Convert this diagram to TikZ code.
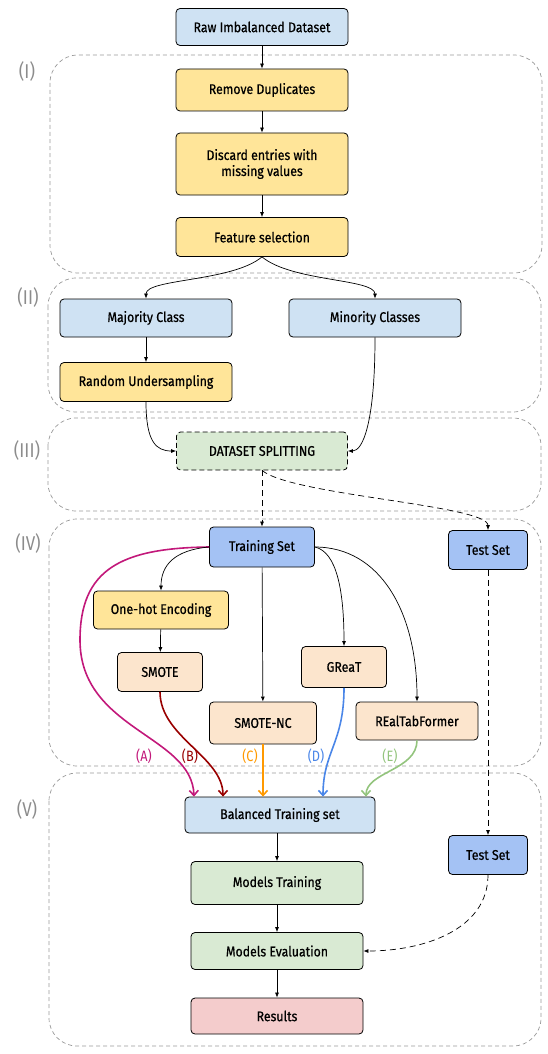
\documentclass[tikz,border=0pt]{standalone}
\usepackage{fontspec}
\setmainfont{Fira Sans}[FakeStretch=0.88, FakeBold=0.6]
\newfontfamily\thinfont{Fira Sans}[FakeStretch=0.85]
\usepackage{tikz}
\usetikzlibrary{arrows.meta}

\definecolor{lightblue}{HTML}{CFE2F3}
\definecolor{darkblue}{HTML}{A4C2F4}
\definecolor{lightyellow}{HTML}{FFE599}
\definecolor{lightgreen}{HTML}{D9EAD3}
\definecolor{lightpeach}{HTML}{FCE5CD}
\definecolor{lightpink}{HTML}{F4CCCC}
\definecolor{pathA}{HTML}{C2187A}
\definecolor{pathB}{HTML}{990000}
\definecolor{pathC}{HTML}{FF9900}
\definecolor{pathD}{HTML}{4A86E8}
\definecolor{pathE}{HTML}{93C47D}

\begin{document}
\begin{tikzpicture}[x=1pt,y=-1pt,
  my box/.style={
    draw=black, line width=0.8pt, rounded corners=4pt,
    align=center, inner sep=0pt,
    font=\fontsize{14}{16}\selectfont,
  },
  my group/.style={draw=black!40, dash pattern=on 4pt off 3pt, line width=0.7pt, rounded corners=28pt},
  my stage/.style={text=black!45, font=\thinfont\fontsize{20}{22}\selectfont},
  my arrow/.style={-{Latex[length=5pt,width=4pt]}, line width=0.7pt},
  my dashed/.style={my arrow, dash pattern=on 6pt off 4pt},
  my path/.style={-{Straight Barb[length=5pt,width=9pt]}, line width=1.6pt},
  my tag/.style={font=\thinfont\fontsize{15}{16}\selectfont},
  ]
  \useasboundingbox (0,0) rectangle (547,1054);

  \draw[my group] (50,55) rectangle (542,273);
  \draw[my group] (48,278) rectangle (541,412);
  \draw[my group] (48,418) rectangle (541,511);
  \draw[my group] (49,519) rectangle (541,766);
  \draw[my group] (49,773) rectangle (541,1046);
  \node[my stage] (stI) at (27,72) {(I)};
  \node[my stage] (stII) at (28,297) {(II)};
  \node[my stage] (stIII) at (27,450) {(III)};
  \node[my stage] (stIV) at (28,543) {(IV)};
  \node[my stage] (stV) at (27,809) {(V)};

  \node[my box, fill=lightblue, minimum width=172pt, minimum height=37pt] (raw) at (262,27) {Raw Imbalanced Dataset};
  \node[my box, fill=lightyellow, minimum width=172pt, minimum height=42pt] (dup) at (262,90) {Remove Duplicates};
  \node[my box, fill=lightyellow, minimum width=172pt, minimum height=62pt] (miss) at (262,164) {Discard entries with\\missing values};
  \node[my box, fill=lightyellow, minimum width=172pt, minimum height=39pt] (feat) at (262,237) {Feature selection};
  \node[my box, fill=lightblue, minimum width=172pt, minimum height=38pt] (major) at (146,318) {Majority Class};
  \node[my box, fill=lightblue, minimum width=172pt, minimum height=38pt] (minor) at (375,318) {Minority Classes};
  \node[my box, fill=lightyellow, minimum width=172pt, minimum height=39pt] (under) at (146,382) {Random Undersampling};
  \node[my box, fill=lightgreen, dash pattern=on 5pt off 3pt, minimum width=171pt, minimum height=38pt] (split) at (262,451) {DATASET SPLITTING};
  \node[my box, fill=darkblue, minimum width=105pt, minimum height=40pt] (train) at (262,547) {Training Set};
  \node[my box, fill=darkblue, minimum width=79pt, minimum height=39pt] (testA) at (488,550) {Test Set};
  \node[my box, fill=lightyellow, minimum width=135pt, minimum height=38pt] (onehot) at (161,610) {One-hot Encoding};
  \node[my box, fill=lightpeach, minimum width=85pt, minimum height=39pt] (smote) at (160,672) {SMOTE};
  \node[my box, fill=lightpeach, minimum width=85pt, minimum height=41pt] (great) at (344,667) {GReaT};
  \node[my box, fill=lightpeach, minimum width=107pt, minimum height=42pt] (smotenc) at (263,723) {SMOTE-NC};
  \node[my box, fill=lightpeach, minimum width=122pt, minimum height=38pt] (realtab) at (417,721) {REalTabFormer};
  \node[my box, fill=lightblue, minimum width=190pt, minimum height=36pt] (bal) at (280,815) {Balanced Training set};
  \node[my box, fill=darkblue, minimum width=79pt, minimum height=39pt] (testB) at (488,855) {Test Set};
  \node[my box, fill=lightgreen, minimum width=172pt, minimum height=43pt] (mtrain) at (277,883) {Models Training};
  \node[my box, fill=lightgreen, minimum width=172pt, minimum height=37pt] (meval) at (277,951) {Models Evaluation};
  \node[my box, fill=lightpink, minimum width=172pt, minimum height=36pt] (res) at (277,1016) {Results};

  \draw[my arrow] (raw) -- (dup);
  \draw[my arrow] (dup) -- (miss);
  \draw[my arrow] (miss) -- (feat);
  \draw[my arrow] (feat.south) .. controls +(-30,25) and +(0,-20) .. (major.north);
  \draw[my arrow] (feat.south) .. controls +(30,25) and +(0,-20) .. (minor.north);
  \draw[my arrow] (major) -- (under);
  \draw[my arrow] (under.south) .. controls +(0,40) and +(-20,0) .. (split.west);
  \draw[my arrow] (minor.south) .. controls +(0,85) and +(15,0) .. (split.east);
  \draw[my dashed] (split) -- (train);
  \draw[my dashed] (split.south) .. controls +(30,25) and +(0,-25) .. (testA.north);

  \draw[my path, pathA] (train.west) .. controls (120,548) and (80,570) .. (80,640)
    .. controls (80,730) and (192,735) .. ([xshift=-86pt]bal.north);
  \draw[my arrow] (train.west) .. controls +(-35,3) and +(0,-25) .. (onehot.north);
  \draw[my arrow] (train) -- (smotenc);
  \draw[my arrow] (train.east) .. controls +(22,5) and +(0,-55) .. (great.north);
  \draw[my arrow] (train.east) .. controls +(65,0) and +(0,-90) .. (realtab.north);
  \draw[my arrow] (onehot) -- (smote);
  \draw[my path, pathB] (smote.south) .. controls +(0,45) and +(0,-40) .. ([xshift=-57pt]bal.north);
  \draw[my path, pathC] (smotenc.south) -- (smotenc.south |- bal.north);
  \draw[my path, pathD] (great.south) .. controls +(0,55) and +(0,-45) .. ([xshift=43pt]bal.north);
  \draw[my path, pathE] (realtab.south) .. controls +(0,30) and +(0,-25) .. ([xshift=86pt]bal.north);
  \draw[my dashed] (testA) -- (testB);

  \node[my tag, pathA] (tagA) at (144,756) {(A)};
  \node[my tag, pathB] (tagB) at (190,756) {(B)};
  \node[my tag, pathC] (tagC) at (250,756) {(C)};
  \node[my tag, pathD] (tagD) at (316,756) {(D)};
  \node[my tag, pathE] (tagE) at (390,756) {(E)};

  \draw[my arrow] (mtrain.north |- bal.south) -- (mtrain.north);
  \draw[my arrow] (mtrain) -- (meval);
  \draw[my arrow] (meval) -- (res);
  \draw[my dashed] (testB.south) .. controls +(0,55) and +(60,0) .. (meval.east);
\end{tikzpicture}
\end{document}
